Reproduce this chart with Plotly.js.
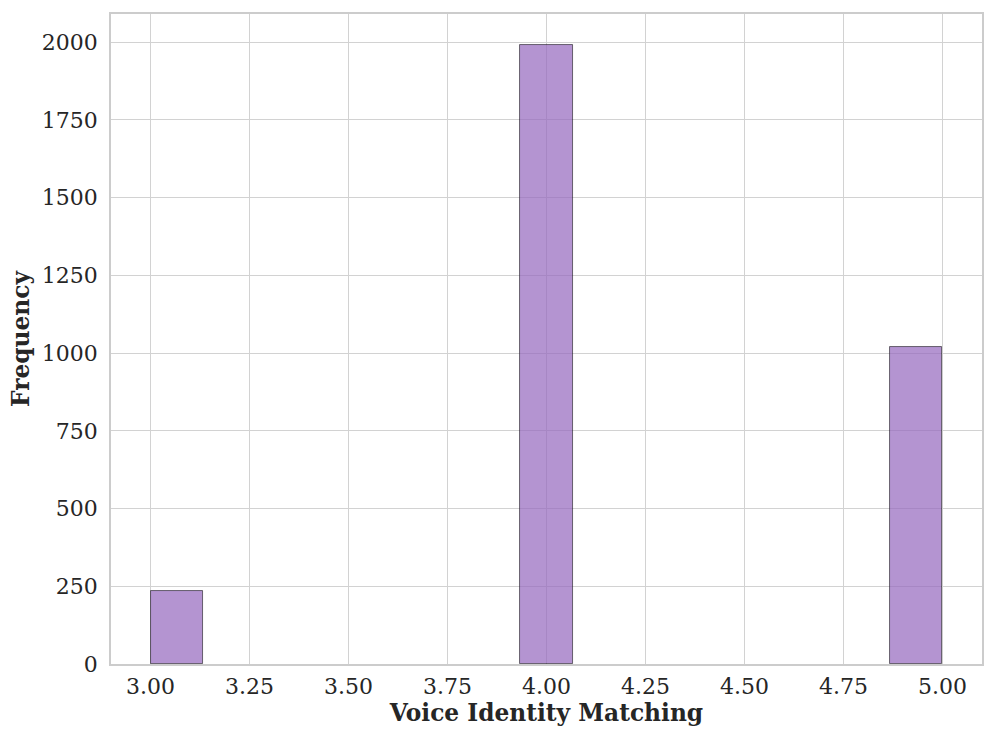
<!DOCTYPE html>
<html>
<head>
<meta charset="utf-8">
<script src="https://cdn.plot.ly/plotly-3.0.1.min.js"></script>
<style>html,body{margin:0;padding:0;background:#fff;}#chart{width:997px;height:739px;}</style>
</head>
<body>
<div id="chart"></div>
<script>
// Histogram of Voice Identity Matching scores: 15 bins between 3.0 and 5.0
const binStart = 3.0;
const binEnd = 5.0;
const binCount = 15;
const counts = [236, 0, 0, 0, 0, 0, 0, 1991, 0, 0, 0, 0, 0, 0, 1018];
const xTicks = [3.00, 3.25, 3.50, 3.75, 4.00, 4.25, 4.50, 4.75, 5.00];
const yTicks = [0, 250, 500, 750, 1000, 1250, 1500, 1750, 2000];

const binWidth = (binEnd - binStart) / binCount;
const centers = counts.map((_, i) => binStart + binWidth * (i + 0.5));
const maxCount = Math.max(...counts);

const trace = {
  type: 'bar',
  x: centers,
  y: counts,
  width: counts.map(() => binWidth),
  marker: {
    color: 'rgba(148,103,189,0.7)',
    line: {color: 'rgba(0,0,0,0.6)', width: counts.map(c => c > 0 ? 0.9 : 0)}
  },
  hoverinfo: 'x+y'
};

const font = {family: 'DejaVu Serif, serif', size: 22, color: '#262626'};
const titleFont = {family: 'DejaVu Serif, serif', size: 23.3, color: '#262626'};

const layout = {
  width: 997, height: 739,
  margin: {l: 111, r: 15, t: 14, b: 75},
  paper_bgcolor: '#ffffff',
  plot_bgcolor: '#ffffff',
  font: font,
  showlegend: false,
  bargap: 0,
  xaxis: {
    range: [binStart - 0.05 * (binEnd - binStart), binEnd + 0.05 * (binEnd - binStart)],
    tickvals: xTicks,
    ticktext: xTicks.map(v => v.toFixed(2)),
    showgrid: true, gridcolor: '#d2d2d2', gridwidth: 1.4,
    zeroline: false,
    showline: true, linecolor: '#cccccc', linewidth: 1.6, mirror: true,
    ticks: '', ticklabelstandoff: 2,
    tickfont: font,
    title: {text: '<b>Voice Identity Matching</b>', font: titleFont, standoff: 4}
  },
  yaxis: {
    range: [0, maxCount * 1.05],
    tickvals: yTicks,
    ticktext: yTicks.map(String),
    showgrid: true, gridcolor: '#d2d2d2', gridwidth: 1.4,
    zeroline: false,
    showline: true, linecolor: '#cccccc', linewidth: 1.6, mirror: true,
    ticks: '', ticklabelstandoff: 7,
    tickfont: font,
    title: {text: '<b>Frequency</b>', font: titleFont, standoff: 6}
  }
};

Plotly.newPlot('chart', [trace], layout, {displayModeBar: false, responsive: false});
</script>
</body>
</html>
